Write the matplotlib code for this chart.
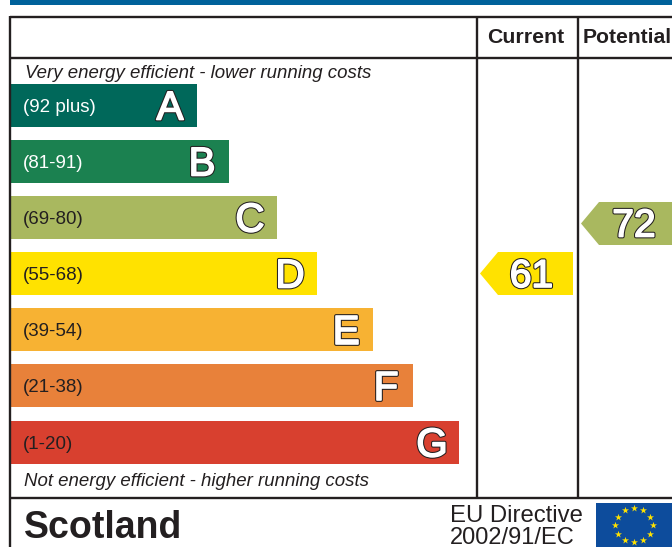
import numpy as np
import matplotlib
matplotlib.use("Agg")
import matplotlib.pyplot as plt
import matplotlib.patheffects as pe
from matplotlib.patches import Polygon, Rectangle

bands = ["A", "B", "C", "D", "E", "F", "G"]
ranges = ["(92 plus)", "(81-91)", "(69-80)", "(55-68)", "(39-54)", "(21-38)", "(1-20)"]
lows = [92, 81, 69, 55, 39, 21, 1]
bar_ends = [197, 229, 277, 317, 373, 413, 459]
colors = ["#00685a", "#1b8150", "#a9b85f", "#ffe200", "#f7b233", "#e8813a", "#d8402f"]
current = 61
potential = 72

DARK = "#231f20"
FONT = "Liberation Sans"


def outlined(x, y, s, size):
    """White glyphs with a thin dark edge"""
    t = ax.text(x, y, s, fontsize=size, family=FONT, color="white",
                ha="center", va="center_baseline")
    t.set_path_effects([pe.Stroke(linewidth=2.7, foreground=DARK),
                        pe.Stroke(linewidth=1.2, foreground="white"),
                        pe.Normal()])


def band_index(score):
    """Which row a score falls in"""
    for i, low in enumerate(lows):
        if score >= low:
            return i
    return len(lows) - 1


def arrow(left, right, top, score):
    i = band_index(score)
    bottom = top + bar_h
    mid = (top + bottom) / 2
    pts = [(left, mid), (left + 18, top), (right, top), (right, bottom), (left + 18, bottom)]
    ax.add_patch(Polygon(pts, closed=True, color=colors[i], lw=0))
    return mid


fig = plt.figure(figsize=(6.72, 5.47), dpi=100)
ax = fig.add_axes([0, 0, 1, 1])
ax.set_xlim(0, 672)
ax.set_ylim(547, 0)
ax.axis("off")

ax.add_patch(Rectangle((10, 0), 662, 5, color="#00629b", lw=0))

# table frame
for y in [17, 57.5, 497.5]:
    ax.plot([10, 672], [y, y], color=DARK, lw=1.7, solid_capstyle="butt")
ax.plot([10, 10], [16, 547], color=DARK, lw=1.7, solid_capstyle="butt")
for x in [477, 578]:
    ax.plot([x, x], [17, 497], color=DARK, lw=1.7, solid_capstyle="butt")

ax.text(526, 35.5, "Current", fontsize=15.3, fontweight="bold", family=FONT, color=DARK, ha="center", va="center_baseline")
ax.text(627.5, 35.5, "Potential", fontsize=15.2, fontweight="bold", family=FONT, color=DARK, ha="center", va="center_baseline")

ax.text(25, 71, "Very energy efficient - lower running costs", fontsize=13.45, style="italic", family=FONT,
        color=DARK, va="center_baseline")
ax.text(24, 480, "Not energy efficient - higher running costs", fontsize=13.45, style="italic", family=FONT,
        color=DARK, va="center_baseline")

# bands
rows = [84, 140, 196, 252, 308, 364, 421]
bar_h = 43
for i, band in enumerate(bands):
    ax.barh(rows[i] + bar_h / 2, bar_ends[i] - 11, height=bar_h, left=11, color=colors[i], lw=0)
    txt = "white" if i < 2 else DARK
    ax.text(23, rows[i] + bar_h / 2, ranges[i], fontsize=13.5, family=FONT, color=txt, va="center_baseline")
    outlined(bar_ends[i] - 27, rows[i] + bar_h / 2 - 1, band, 29)

mid = arrow(480, 573, 252, current)
outlined(531.5, mid - 0.5, str(current), 28)
mid = arrow(581, 672, 202, potential)
outlined(634, mid - 1, str(potential), 28)

# footer
ax.text(24, 524.5, "Scotland", fontsize=27, fontweight="bold", family=FONT, color=DARK, va="center_baseline")
ax.text(450, 514, "EU Directive", fontsize=17.2, family=FONT, color=DARK, va="center_baseline")
ax.text(450, 544.5, "2002/91/EC", fontsize=17, family=FONT, color=DARK, va="baseline")

ax.add_patch(Rectangle((596, 503), 76, 44, color="#0d4c9c", lw=0))
angles = np.deg2rad(np.arange(0, 360, 30))
ax.scatter(634 + 18.7 * np.cos(angles), 525 + 17 * np.sin(angles), marker="*", s=28, color="#ffe200", lw=0)

fig.savefig("out.png", dpi=100)
